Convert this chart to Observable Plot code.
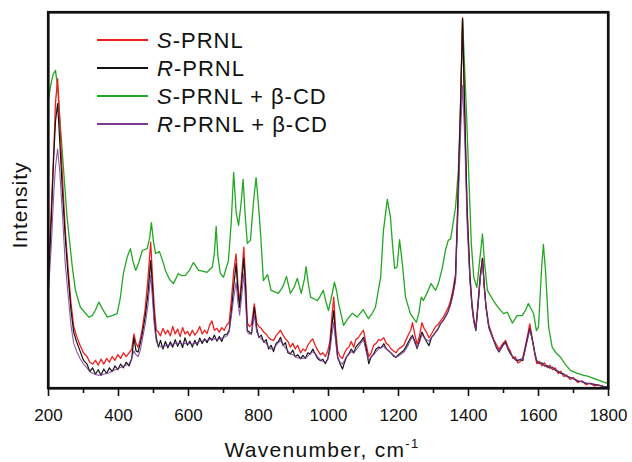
<!DOCTYPE html>
<html>
<head>
<meta charset="utf-8">
<script src="https://cdn.jsdelivr.net/npm/d3@7"></script>
<script src="https://cdn.jsdelivr.net/npm/@observablehq/plot@0.6"></script>
<style>
  html, body { margin: 0; padding: 0; background: #fff; }
</style>
</head>
<body>
<div id="chart"></div>
<script>
// Shared Raman-shift grid (cm-1) for the three traces without the green offset
const lowWn = [200,208,215,220,226,232,240,248,256,264,
272,280,290,300,310,318,326,334,342,350,
358,366,374,382,390,398,406,414,422,430,
438,444,450,456,462,468,476,484,492,497,
502,508,514,520,527,534,541,548,555,562,
569,576,583,590,597,604,611,618,625,632,
639,646,653,660,667,674,681,688,695,702,
710,716,722,729,736,741,746,752,758,763,
768,774,780,788,795,801,808,815,822,829,
836,843,850,857,863,870,877,884,891,898,
905,912,920,927,934,941,948,955,962,969,
977,984,991,998,1004,1010,1015,1020,1026,1033,
1040,1046,1052,1058,1065,1072,1078,1085,1092,1100,
1107,1115,1122,1129,1136,1143,1150,1158,1165,1172,
1179,1186,1193,1200,1208,1215,1222,1229,1235,1240,
1247,1253,1260,1267,1273,1280,1287,1294,1300,1306,
1313,1320,1328,1335,1342,1349,1356,1363,1369,1377,
1383,1389,1396,1404,1410,1415,1421,1429,1434,1440,
1445,1450,1458,1465,1472,1479,1487,1494,1500,1506,
1513,1520,1527,1534,1541,1548,1555,1562,1569,1575,
1580,1585,1590,1595,1602,1610,1617,1625,1632,1640,
1648,1656,1664,1672,1680,1690,1700,1712,1724,1736,
1748,1760,1772,1786,1800];

// S-PRNL (red)
const sPRNL = [30,48,63,76,82.4,72,56,42,32,23,
16.5,14,11.5,9.5,8.5,7,6.5,7.5,6.2,7.8,
6.5,8,7,8.5,7.5,9,8,9.5,8.5,9.5,
10.5,14.5,12,11,13,16,21,29,38.9,30,
22,15.5,15,14,16,14.5,15.5,14,16.5,14.5,
15.8,13.8,16.2,14.5,15.2,14,15.5,14.2,15,16.5,
14.5,15.5,14.6,16.8,18,15.5,16,15,16.2,15.5,
17,17.5,23,31,35.8,28,22.5,30,37.6,29,
17.5,16.5,17,22.5,17.5,16.5,16,15,14.5,13.5,
13,12.8,14,14.8,15.5,14.2,13.2,12.5,11,12,
10.5,11.5,9.5,10.5,10,11.5,12.5,13.2,11.5,10.2,
9,9.5,8.5,10,12.5,19.5,24.3,16,10,8.5,
8,9.5,10.5,11,12.5,11,13,13.5,14.5,15.5,
12,8.5,9.5,11.5,12,13,12.8,13.5,12,11.5,
10.5,10,9.5,10.5,11,11.5,13,14.5,15.5,17.5,
14.2,11.8,14,17.5,16,15,13.5,14.5,15.5,16.5,
17,18,19,20.2,21.5,23.5,26.5,30.5,48,74.5,
98.6,74.5,48,30.5,22.5,18.6,16,25,30.5,34.6,
27.5,22,16.8,15,13,11.8,10.4,11.4,12.2,12.8,
11,9.8,8,8.4,6.8,7.2,8.2,11,14.2,17.2,
14.6,11.5,8.8,6.6,7.2,6,6.8,5.6,6.2,5,
5.5,4,4.6,3.2,3.6,2.4,2.9,1.6,2,1,
1.4,0.7,1,0.4,0.5];

// R-PRNL (black)
const rPRNL = [28,45,62,71,75.8,66,52,40,30,21,
15,12.5,10,7.5,6.5,4.5,5.5,3.8,5,3.5,
5.2,4,5.5,4.5,6,5,6.5,5.5,7,6,
8,13.6,10,9.7,12,14.5,19,25,34,27,
19,13.5,11,12.8,10.5,12.5,10.8,12.4,11,13,
11.2,12.8,10.9,13.5,11.5,12.6,11,12.8,11.5,13.4,
12,13.2,12.2,13.6,12.8,14.2,12.6,13.8,12.5,14.2,
14.5,15.4,20,27,33.2,26,21.6,28,34.6,27,
15.4,15,14.5,21.6,16,13.6,14.2,12.3,13,10.5,
11.5,9.8,12,12.5,13.6,11.5,12.2,9.5,9.2,10.2,
8.4,9,7.9,8.8,8,9.5,9.2,10.5,9.2,8,
7.4,7.8,6.6,8,11,17,20.7,14,8.5,6.6,
5.2,7,8.5,9.2,10.5,9.5,11,11.8,12.5,13.6,
11,6.6,8.4,9.2,10.5,11,10.8,11.9,10.6,10,
9.4,8.6,8.3,9,9.6,10.1,11.2,12.5,13.5,14.1,
12.5,10.6,12.8,15,13.8,12.5,11.4,13.5,14.2,15,
15.8,17.2,18.1,19.2,20.5,22.5,25.5,29.6,47.3,73.9,
98.3,73.9,47.3,29.6,22,18.1,15.4,24.3,30,34.6,
27,21.6,16.3,14.4,12.8,11,9.7,10.8,11.8,12.3,
10.4,9.2,8.4,7.6,7.4,7.8,7.4,10.6,13.5,15.9,
14,11.9,9.2,7.4,6.6,6.8,6,6.1,5.4,5.7,
4.8,4.6,4,3.9,3.2,3,2.6,2,1.8,1.4,
1.3,1.1,0.8,0.6,0.5];

// R-PRNL + beta-CD (purple)
const rPRNLcd = [26,38,52,59,63.7,58,46,33,25,17,
12,10,8,6.5,5.5,4.5,4,3.8,3.5,3.6,
3.8,4,4.2,4.6,5,5.3,5.6,6,6.2,6.5,
8,10,9,8.5,10,13,17,22,30.1,24,
17,12.5,11.5,11.2,11,11.4,11.6,11.5,11.8,12,
12,12,11.8,12,12,12,11.8,12,12.2,12.5,
12.6,12.8,12.8,13,13.2,13.2,13,13.2,13.4,13.6,
14,15,19,24,28.3,23,19.5,24.5,30.6,23,
15,14.5,14.5,19.5,15,13.8,13.2,12.5,12,11,
10.5,10.8,11.5,12.2,12.8,11.6,10.8,10,9.2,9,
8.5,8.2,8,8,8.2,8.6,9.2,9.8,9.2,8.4,
7.6,7.2,7,7.6,10,14.5,17.6,13,8,7,
6.5,7.5,8.5,9,9.8,9.4,10.2,11,12,13,
10,7.5,8.4,9,9.8,10.5,11,11.2,10.5,10,
9.4,8.8,8.4,8.6,9.2,9.6,10.6,11.8,13,13.8,
12,10.8,12.2,14.4,13.6,13,12.6,13.6,14.2,15,
16,17.2,18.2,19.4,20.6,22.4,25,28.5,44,67,
80.6,67,44,28.5,21.5,17.8,15.5,23.8,29.5,33.6,
27,21.5,16.2,14.5,12.8,11.2,9.9,10.8,11.6,12,
10.6,9.4,8.4,7.8,7.6,7.6,7.8,10.2,13.2,15.6,
13.8,11.6,9.2,7.4,6.8,6.6,6.2,6,5.8,5.5,
5,4.6,4.2,3.8,3.3,2.9,2.6,2.1,1.8,1.5,
1.3,1,0.8,0.6,0.5];

// S-PRNL + beta-CD (green), own grid
const cdWn = [200,206,213,220,226,239,253,268,277,291,
315,325,335,344,352,368,382,396,405,414,
425,434,441,449,458,468,482,489,494,500,
506,517,526,534,546,557,571,580,591,603,
614,629,640,653,668,674,679,684,691,700,
714,722,729,736,743,750,756,762,768,777,
786,793,799,806,814,826,836,857,869,880,
891,902,911,922,931,936,942,949,968,976,
985,993,1000,1010,1017,1023,1029,1043,1055,1068,
1082,1099,1114,1125,1134,1149,1157,1168,1177,1184,
1189,1196,1203,1211,1220,1234,1251,1258,1265,1271,
1282,1293,1306,1314,1325,1334,1342,1349,1356,1363,
1371,1377,1383,1394,1401,1408,1415,1424,1431,1440,
1446,1454,1471,1485,1500,1511,1525,1539,1553,1563,
1571,1580,1586,1594,1600,1609,1614,1620,1629,1639,
1650,1663,1676,1691,1711,1729,1740,1757,1771,1786,
1800];
const sPRNLcd = [77,80.5,83.5,84.6,80,63.3,45.6,32.3,26.1,21.6,
19,19.4,21,23,21.5,19,19.4,19.9,24,30.6,
35,37.2,34,31.4,33.5,36.7,37.2,40,44.1,39,
35.9,36.4,34,31.4,29,27.9,30.6,30,30.1,31.5,
33.5,31.4,31.2,30.9,32.3,36,43.1,35,30.6,29.6,
34,44,57.5,47,43.4,49,55.6,46,38.6,39.4,
50,56.1,50,41.2,28.7,30.3,26.1,25.3,27,29.8,
25.3,27,29.3,25.3,29,32.4,28,24.3,23.4,24.5,
26.1,23,20.7,25,28.3,26,22.6,16.8,18.5,20,
19,21,18.6,20,21.6,29.6,42,50.3,45.6,37,
31.9,32.3,39.6,33.2,24.3,19.9,17.6,20,24.3,23.4,
25.5,27.9,26.1,27.9,32,36.7,39.4,39.8,44,48.2,
58,73.9,98.3,73.9,56.2,38.6,29.6,26.9,33.2,41.1,
33.2,26.1,23.4,21.5,19.9,20.3,17.4,19.4,19.4,20.8,
22.6,21,19.9,15.4,16.3,32.3,38.3,31.4,16.3,11,
9.5,8.3,6.5,4.8,4,3.5,3.3,2.7,2.2,1.7,
1.3];

const xTicks = [200,400,600,800,1000,1200,1400,1600,1800];
const xMinorTicks = [300,500,700,900,1100,1300,1500,1700];
const xDomain = [200, 1800];
const yDomain = [0, 100];

const seriesNames = ["S-PRNL", "R-PRNL", "S-PRNL + β-CD", "R-PRNL + β-CD"];
const seriesColors = ["#f01e1e", "#141414", "#22a822", "#7a3a96"];

const lowRows = (vals) => lowWn.map((w, i) => ({wn: w, v: vals[i]}));
const redRows = lowRows(sPRNL);
const blackRows = lowRows(rPRNL);
const purpleRows = lowRows(rPRNLcd);
const greenRows = cdWn.map((w, i) => ({wn: w, v: sPRNLcd[i]}));

const font = "'Liberation Sans', Arial, Helvetica, sans-serif";

const chart = Plot.plot({
  width: 632,
  height: 462,
  marginLeft: 48,
  marginRight: 24,
  marginTop: 12,
  marginBottom: 74,
  style: {fontFamily: font, fontSize: "17px", color: "#111", background: "#fff"},
  x: {domain: xDomain},
  y: {domain: yDomain, axis: null},
  marks: [
    Plot.line(greenRows, {x: "wn", y: "v", stroke: seriesColors[2], strokeWidth: 1.3}),
    Plot.line(redRows, {x: "wn", y: "v", stroke: seriesColors[0], strokeWidth: 1.3}),
    Plot.line(blackRows, {x: "wn", y: "v", stroke: seriesColors[1], strokeWidth: 1.2}),
    Plot.line(purpleRows, {x: "wn", y: "v", stroke: seriesColors[3], strokeWidth: 1.1, strokeOpacity: 0.85}),
    Plot.axisX({ticks: xMinorTicks, tickSize: 5, tickFormat: () => "", strokeWidth: 1.6, label: null}),
    Plot.axisX({ticks: xTicks, tickSize: 8, tickPadding: 12, strokeWidth: 1.6, fontSize: 17, label: null, tickFormat: d => String(d)}),
    Plot.frame({stroke: "#111", strokeWidth: 2.2})
  ]
});

document.getElementById("chart").appendChild(chart);

const svg = d3.select(chart);

// plot-area border, positioned from the chart's own scales
const sx = chart.scale("x"), sy = chart.scale("y");
const fx0 = sx.apply(xDomain[0]), fx1 = sx.apply(xDomain[1]);
const fy0 = sy.apply(yDomain[1]), fy1 = sy.apply(yDomain[0]);
svg.append("rect")
  .attr("x", fx0).attr("y", fy0)
  .attr("width", fx1 - fx0).attr("height", fy1 - fy0)
  .attr("fill", "none").attr("stroke", "#111").attr("stroke-width", 2.2);

// axis titles
const xt = svg.append("text")
  .attr("x", 322).attr("y", 457)
  .attr("text-anchor", "middle")
  .attr("font-family", font).attr("font-size", 21)
  .attr("letter-spacing", "1.3px")
  .attr("fill", "#111");
xt.append("tspan").text("Wavenumber, cm");
xt.append("tspan").attr("dy", -9).attr("font-size", 13).text("-1");

svg.append("text")
  .attr("transform", "translate(27,205) rotate(-90)")
  .attr("text-anchor", "middle")
  .attr("font-family", font).attr("font-size", 21)
  .attr("letter-spacing", "1px")
  .attr("fill", "#111")
  .text("Intensity");

// legend
const legendY = [40, 68, 96, 124];
const lg = svg.append("g").attr("font-family", font).attr("font-size", 22)
  .attr("fill", "#111").attr("text-anchor", "start");
seriesNames.forEach((name, i) => {
  const y = legendY[i];
  lg.append("line").attr("x1", 97).attr("x2", 148).attr("y1", y).attr("y2", y)
    .attr("stroke", seriesColors[i]).attr("stroke-width", 2);
  const t = lg.append("text").attr("x", 157).attr("y", y).attr("dy", "0.36em")
    .attr("text-anchor", "start").attr("letter-spacing", "1px");
  t.append("tspan").attr("font-style", "italic").text(name.slice(0, 1));
  t.append("tspan").text(name.slice(1));
});
</script>
</body>
</html>
